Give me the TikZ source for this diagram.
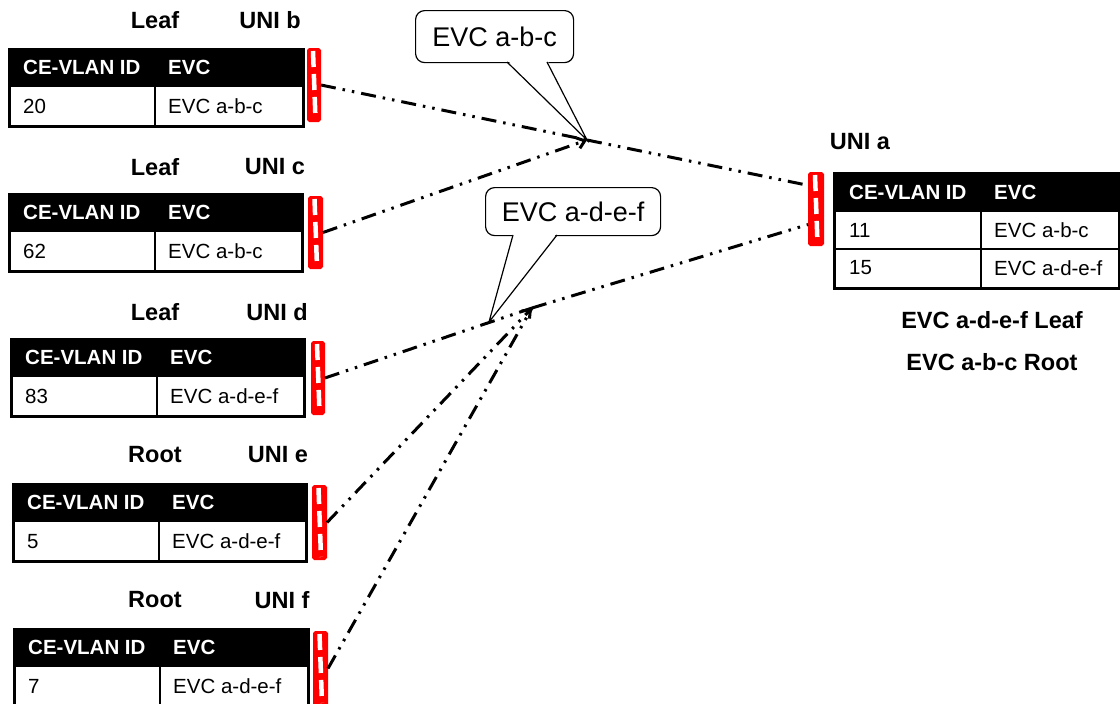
\documentclass[tikz,border=0pt]{standalone}
\usepackage{fontspec}
\setmainfont{Liberation Sans}
\usetikzlibrary{calc,arrows.meta}
\tikzset{
 lbl/.style={font=\fontsize{23.5}{28}\selectfont\bfseries, inner sep=0},
 hdr/.style={font=\fontsize{20.5}{24}\selectfont\bfseries, text=white, inner sep=0, anchor=west},
 cell/.style={font=\fontsize{20.5}{24}\selectfont, inner sep=0, anchor=west},
 tblframe/.style={draw=black, line width=3pt, inner sep=0, anchor=north west},
 innerline/.style={line width=2pt},
 port/.style={draw=red, fill=red, line width=2pt, rounded corners=1.5pt, inner sep=0, anchor=north west,
   path picture={\draw[white, line width=4.5pt, dash pattern=on 16pt off 7pt]
     ([xshift=-1pt,yshift=-2pt]path picture bounding box.north) -- ([xshift=1.5pt,yshift=2pt]path picture bounding box.south);}},
 link/.style={line width=3pt, dash pattern=on 15pt off 7pt on 2.5pt off 7pt on 2.5pt off 7pt},
 tiplink/.style={link, -{Straight Barb[length=7pt,width=11pt]}},
 callout/.style={draw=black, line width=1.2pt, rounded corners=9pt, fill=white, font=\fontsize{27}{32}\selectfont, inner sep=0, anchor=north west},
 tail/.style={line width=1.2pt},
}
\newcommand\evctab[6]{% name, x, y, width, id, evc
 \begin{scope}[shift={(#2,#3)}]
  \fill[black] (0,0) rectangle (#4,39);
  \draw[innerline] (147,39) -- (147,77);
  \node[tblframe, minimum width=#4pt, minimum height=77pt] (#1) at (0,0) {};
  \node[hdr] (#1h1) at (15,19.5) {CE-VLAN ID};
  \node[hdr] (#1h2) at (160,19.5) {EVC};
  \node[cell] (#1c1) at (15,58.5) {#5};
  \node[cell] (#1c2) at (160,58.5) {#6};
 \end{scope}}
\begin{document}
\begin{tikzpicture}[x=1pt,y=-1pt]
\useasboundingbox (0,0) rectangle (1120,704);

% callouts
\node[callout, minimum width=158pt, minimum height=52pt] (cabc) at (415,10) {EVC a-b-c};
\coordinate (j1) at (587,140);
\fill[white] (507,60) -- (547,60) -- (j1) -- cycle;
\draw[tail] (507,62) -- (j1) -- (547,62);

\node[callout, minimum width=175pt, minimum height=48pt] (cadef) at (485,187) {EVC a-d-e-f};
\coordinate (j3) at (489,322);
\fill[white] (513,233) -- (557,233) -- (j3) -- cycle;
\draw[tail] (513,235) -- (j3) -- (557,235);

\coordinate (j2) at (532,308);

% left tables
\node[lbl] (lb) at (155,20) {Leaf};
\node[lbl] (ub) at (270,20) {UNI b};
\evctab{tb}{8}{48}{294}{20}{EVC a-b-c}
\node[port, minimum width=12pt, minimum height=72pt] (pb) at (307,48) {};

\node[lbl] (lc) at (155,167) {Leaf};
\node[lbl] (uc) at (275,167) {UNI c};
\evctab{tc}{8}{193}{293}{62}{EVC a-b-c}
\node[port, minimum width=13pt, minimum height=71pt] (pc) at (308,196) {};

\node[lbl] (ld) at (155,312) {Leaf};
\node[lbl] (ud) at (277,312) {UNI d};
\evctab{td}{10}{338}{293}{83}{EVC a-d-e-f}
\node[port, minimum width=12pt, minimum height=72pt] (pd) at (311,341) {};

\node[lbl] (le) at (155,455) {Root};
\node[lbl] (ue) at (278,455) {UNI e};
\evctab{te}{12}{483}{293}{5}{EVC a-d-e-f}
\node[port, minimum width=13pt, minimum height=73pt] (pe) at (312,485) {};

\node[lbl] (lf) at (155,600) {Root};
\node[lbl] (uf) at (282,600) {UNI f};
\evctab{tf}{13}{628}{294}{7}{EVC a-d-e-f}
\node[port, minimum width=13pt, minimum height=73pt] (pf) at (313,631) {};

% UNI a table
\node[lbl] (ua) at (860,142) {UNI a};
\fill[black] (833,172) rectangle (1118,212);
\draw[innerline] (981,212) -- (981,287);
\draw[innerline] (833,249) -- (1118,249);
\node[tblframe, minimum width=285pt, minimum height=115pt] (ta) at (833,172) {};
\node[hdr] (tah1) at (849,192) {CE-VLAN ID};
\node[hdr] (tah2) at (994,192) {EVC};
\node[cell] (tac1) at (849,230.5) {11};
\node[cell] (tac2) at (994,230.5) {EVC a-b-c};
\node[cell] (tac3) at (849,268) {15};
\node[cell] (tac4) at (994,268) {EVC a-d-e-f};
\node[port, minimum width=14pt, minimum height=72pt] (pa) at (808,172) {};
\coordinate (pa1) at ($(pa.north west)!0.18!(pa.south west)$);
\coordinate (pa2) at ($(pa.north west)!0.71!(pa.south west)$);

\node[lbl] (rl) at (992,320) {EVC a-d-e-f Leaf};
\node[lbl] (rr) at (992,362) {EVC a-b-c Root};

% links
\draw[link] (pb.east) -- (j1);
\draw[tiplink] (pc.east) -- (j1);
\draw[link] (j1) -- (pa1);
\draw[link] (pd.east) -- (j2);
\draw[tiplink] (pe.east) -- (j2);
\draw[link] (pf.east) -- (j2);
\draw[link] (j2) -- (pa2);
\end{tikzpicture}
\end{document}
